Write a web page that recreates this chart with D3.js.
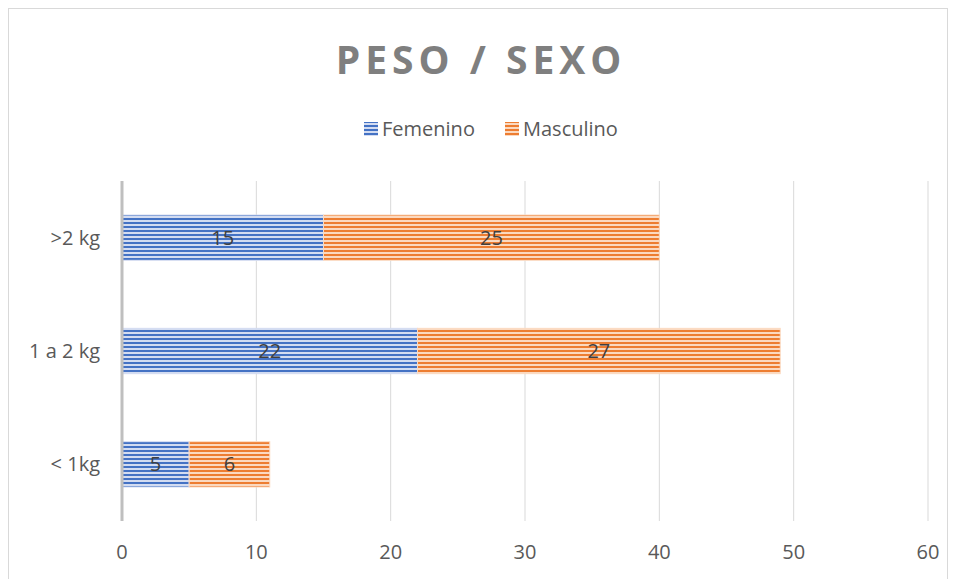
<!DOCTYPE html>
<html>
<head>
<meta charset="utf-8">
<script src="https://cdn.jsdelivr.net/npm/d3@7"></script>
<style>
  body { margin: 0; background: #fff; }
  text { font-family: "Open Sans", "Noto Sans", sans-serif; }
</style>
</head>
<body>
<svg id="chart"></svg>
<script>
const categories = ['< 1kg', '1 a 2 kg', '>2 kg'];
const femenino = [5, 22, 15];
const masculino = [6, 27, 25];
const xticks = [0, 10, 20, 30, 40, 50, 60];
const series = [
    {name: 'Femenino', values: femenino, color: '#4472c4', light: '#d3dcf1'},
    {name: 'Masculino', values: masculino, color: '#ed7d31', light: '#fbd9c0'}
];

const width = 956, height = 579;
const margin = {top: 181, right: 28, bottom: 58, left: 122};

const svg = d3.select('#chart')
    .attr('width', width)
    .attr('height', height);

// frame
svg.append('rect')
    .attr('x', 8.5).attr('y', 8.5)
    .attr('width', 939).attr('height', 580)
    .attr('fill', 'none')
    .attr('stroke', '#d9d9d9');

const defs = svg.append('defs');
series.forEach((s, i) => {
    const p = defs.append('pattern')
        .attr('id', 'pat' + i)
        .attr('patternUnits', 'userSpaceOnUse')
        .attr('width', 8).attr('height', 4);
    p.append('rect').attr('width', 8).attr('height', 4).attr('fill', s.light);
    p.append('rect').attr('y', 1).attr('width', 8).attr('height', 2).attr('fill', s.color);
});

const innerW = width - margin.left - margin.right;
const innerH = height - margin.top - margin.bottom;
const chart = svg.append('g')
    .attr('transform', `translate(${margin.left}, ${margin.top})`);

const xscale = d3.scaleLinear().domain([0, 60]).range([0, innerW]);
const yscale = d3.scaleBand()
    .domain(categories.slice().reverse())
    .range([0, innerH])
    .paddingInner(0.6)
    .paddingOuter(0.3);

// gridlines
chart.selectAll('.grid')
    .data(xticks.slice(1))
    .join('line')
    .attr('x1', d => xscale(d)).attr('x2', d => xscale(d))
    .attr('y1', 0).attr('y2', innerH)
    .attr('stroke', '#d9d9d9').attr('stroke-width', 1);

// bars
const stackData = categories.map((c, j) => ({cat: c, f: femenino[j], m: masculino[j]}));
const stack = d3.stack().keys(['f', 'm'])(stackData);

stack.forEach((layer, i) => {
    const g = chart.append('g');
    g.selectAll('rect')
        .data(layer)
        .join('rect')
        .attr('x', d => xscale(d[0]))
        .attr('y', d => yscale(d.data.cat))
        .attr('width', d => xscale(d[1]) - xscale(d[0]))
        .attr('height', yscale.bandwidth())
        .attr('fill', `url(#pat${i})`)
        .attr('stroke', series[i].light)
        .attr('stroke-width', 1);
    g.selectAll('text')
        .data(layer)
        .join('text')
        .attr('x', d => (xscale(d[0]) + xscale(d[1])) / 2)
        .attr('y', d => yscale(d.data.cat) + yscale.bandwidth() / 2)
        .attr('dy', '0.35em')
        .attr('text-anchor', 'middle')
        .attr('font-size', '20px')
        .attr('fill', '#404040')
        .text(d => d[1] - d[0]);
});

// y axis line
chart.append('line')
    .attr('x1', 0).attr('x2', 0)
    .attr('y1', 0).attr('y2', innerH)
    .attr('stroke', '#bfbfbf').attr('stroke-width', 3);

// x tick labels
chart.selectAll('.xtick')
    .data(xticks)
    .join('text')
    .attr('x', d => xscale(d))
    .attr('y', innerH + 38)
    .attr('text-anchor', 'middle')
    .attr('font-size', '20px')
    .attr('fill', '#595959')
    .text(d => d);

// category labels
chart.selectAll('.ytick')
    .data(categories)
    .join('text')
    .attr('x', -22)
    .attr('y', d => yscale(d) + yscale.bandwidth() / 2)
    .attr('dy', '0.35em')
    .attr('text-anchor', 'end')
    .attr('font-size', '20px')
    .attr('fill', '#595959')
    .text(d => d);

// title
svg.append('text')
    .attr('x', 481).attr('y', 74)
    .attr('text-anchor', 'middle')
    .attr('font-size', '39px')
    .attr('font-weight', 'bold')
    .attr('letter-spacing', '5px')
    .attr('fill', '#7f7f7f')
    .text('PESO / SEXO');

// legend
const legend = svg.append('g');
const lx = [364, 505];
series.forEach((s, i) => {
    legend.append('rect')
        .attr('x', lx[i]).attr('y', 122)
        .attr('width', 14).attr('height', 14)
        .attr('fill', `url(#pat${i})`);
    legend.append('text')
        .attr('x', lx[i] + 18).attr('y', 129)
        .attr('dy', '0.35em')
        .attr('font-size', '20px')
        .attr('fill', '#595959')
        .text(s.name);
});
</script>
</body>
</html>
